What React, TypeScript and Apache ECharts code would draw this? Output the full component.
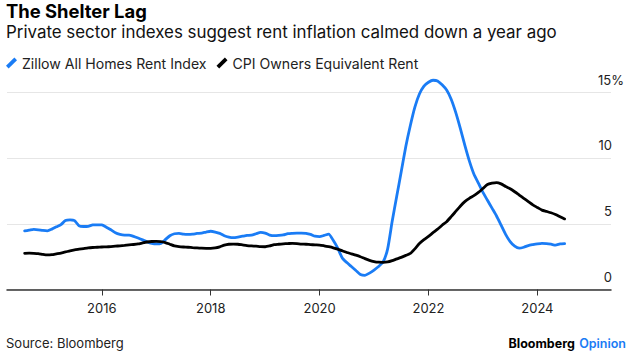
import React, { useEffect, useRef } from "react";
import * as echarts from "echarts";

// Monthly series, first point = Aug 2014
const START_YEAR = 2014;
const START_MONTH = 8;

const zillowRent = [
  4.47, 4.52, 4.58, 4.55, 4.5, 4.47, 4.6, 4.78, 4.95, 5.25,
  5.3, 5.25, 4.85, 4.8, 4.82, 4.92, 4.93, 4.92, 4.75, 4.55,
  4.32, 4.2, 4.15, 4.15, 4.05, 3.92, 3.78, 3.63, 3.52, 3.47,
  3.5, 3.8, 4.1, 4.25, 4.28, 4.22, 4.2, 4.22, 4.27, 4.3,
  4.38, 4.44, 4.38, 4.28, 4.1, 4.0, 3.96, 4.0, 4.06, 4.12,
  4.15, 4.25, 4.35, 4.3, 4.15, 4.1, 4.12, 4.16, 4.25, 4.28,
  4.3, 4.3, 4.28, 4.2, 4.06, 4.03, 4.12, 4.22, 3.75, 3.15,
  2.4, 2.05, 1.75, 1.45, 1.15, 1.08, 1.25, 1.48, 1.75, 2.1,
  3.1, 5.2, 7.1, 9.0, 10.9, 12.5, 13.9, 14.9, 15.5, 15.8,
  15.95, 15.9, 15.6, 15.2, 14.5, 13.5, 12.3, 11.0, 9.8, 8.8,
  8.1, 7.4, 6.8, 6.2, 5.6, 4.9, 4.2, 3.65, 3.3, 3.15,
  3.22, 3.35, 3.42, 3.48, 3.52, 3.5, 3.45, 3.38, 3.47, 3.5,
];

const cpiOer = [
  2.76, 2.77, 2.76, 2.74, 2.68, 2.64, 2.66, 2.72, 2.78, 2.86,
  2.95, 3.02, 3.07, 3.12, 3.17, 3.2, 3.22, 3.24, 3.25, 3.27,
  3.3, 3.33, 3.36, 3.4, 3.43, 3.47, 3.55, 3.62, 3.66, 3.67,
  3.65, 3.58, 3.45, 3.32, 3.27, 3.24, 3.22, 3.19, 3.17, 3.15,
  3.14, 3.14, 3.17, 3.25, 3.38, 3.45, 3.46, 3.45, 3.4, 3.35,
  3.32, 3.3, 3.27, 3.26, 3.32, 3.42, 3.45, 3.48, 3.5, 3.52,
  3.5, 3.46, 3.45, 3.42, 3.4, 3.39, 3.33, 3.26, 3.18, 3.08,
  2.95, 2.82, 2.72, 2.62, 2.5, 2.35, 2.22, 2.13, 2.08, 2.07,
  2.1, 2.2, 2.33, 2.45, 2.6, 2.75, 3.1, 3.5, 3.8, 4.05,
  4.33, 4.6, 4.9, 5.17, 5.55, 5.95, 6.35, 6.7, 6.95, 7.15,
  7.4, 7.7, 8.0, 8.1, 8.15, 8.05, 7.85, 7.68, 7.45, 7.2,
  6.95, 6.7, 6.45, 6.25, 6.05, 5.95, 5.85, 5.72, 5.55, 5.38,
];

const yearTicks = [2016, 2018, 2020, 2022, 2024];
const X_MIN = 2014.259;
const X_MAX = 2025.352;
const Y_MIN = 0;
const Y_MAX = 15;
const Y_STEP = 5;

const seriesNames = ["Zillow All Homes Rent Index", "CPI Owners Equivalent Rent"];
const seriesColors = ["#1a7cf5", "#000000"];

const FONT = "Inter, 'Liberation Sans', Arial, sans-serif";

function toPairs(values: number[]) {
  return values.map((v, i) => {
    const m = START_MONTH - 1 + i;
    return [START_YEAR + m / 12, v];
  });
}

export default function App() {
  const ref = useRef<HTMLDivElement>(null);

  useEffect(() => {
    if (!ref.current) return;
    const chart = echarts.init(ref.current, null, { renderer: "svg" });
    const slash = "path://M0,7.6 L7.6,0 L10,2.4 L2.4,10 Z";
    chart.setOption({
      animation: false,
      backgroundColor: "#ffffff",
      textStyle: { fontFamily: FONT },
      title: [
        {
          text: "The Shelter Lag",
          left: 6,
          top: 0,
          padding: 0,
          textStyle: { fontFamily: FONT, fontSize: 18.4, fontWeight: 700, color: "#000", lineHeight: 22 },
        },
        {
          text: "Private sector indexes suggest rent inflation calmed down a year ago",
          left: 6,
          top: 22,
          padding: 0,
          textStyle: { fontFamily: FONT, fontSize: 16.9, fontWeight: 400, color: "#111", lineHeight: 20 },
        },
        {
          text: "Source: Bloomberg",
          left: 6,
          top: 335,
          padding: 0,
          textStyle: { fontFamily: FONT, fontSize: 13, fontWeight: 400, color: "#222", lineHeight: 16 },
        },
        {
          text: "{b|Bloomberg} {o|Opinion}",
          right: 4,
          top: 335,
          padding: 0,
          textStyle: {
            fontFamily: FONT,
            lineHeight: 16,
            rich: {
              b: { fontFamily: FONT, fontSize: 12.5, fontWeight: 700, color: "#000", lineHeight: 16 },
              o: { fontFamily: FONT, fontSize: 12.5, fontWeight: 600, color: "#1a7cf5", lineHeight: 16 },
            },
          },
        },
      ],
      legend: {
        left: 6,
        top: 56,
        padding: 0,
        itemWidth: 11,
        itemHeight: 12,
        itemGap: 10,
        icon: slash,
        textStyle: { fontFamily: FONT, fontSize: 14.1, color: "#222", lineHeight: 14 },
        data: seriesNames,
      },
      grid: {
        left: 7,
        right: 19,
        top: 92.7,
        bottom: 64.5,
        containLabel: false,
        outerBoundsMode: "none",
      },
      xAxis: {
        type: "value",
        min: X_MIN,
        max: X_MAX,
        axisLine: { show: true, lineStyle: { color: "#333", width: 1.5 } },
        axisTick: {
          show: true,
          customValues: yearTicks,
          length: 6,
          lineStyle: { color: "#333", width: 1 },
        },
        axisLabel: {
          customValues: yearTicks,
          formatter: (v: number) => String(Math.round(v)),
          fontFamily: FONT,
          fontSize: 13,
          color: "#222",
          margin: 12,
        },
        splitLine: { show: false },
      },
      yAxis: {
        type: "value",
        position: "right",
        min: Y_MIN,
        max: Y_MAX,
        interval: Y_STEP,
        axisLine: { show: false },
        axisTick: { show: false },
        splitLine: { show: true, lineStyle: { color: "#e6e6e6", width: 1 } },
        axisLabel: {
          inside: false,
          align: "right",
          margin: 13,
          verticalAlign: "bottom",
          padding: [0, 0, 6, 0],
          lineHeight: 14,
          formatter: (v: number) => (v === Y_MAX ? `{n|${v}}{p|%}` : `{m|${v}}`),
          rich: {
            n: { fontFamily: FONT, fontSize: 13, color: "#222", lineHeight: 14 },
            p: { fontFamily: FONT, fontSize: 13, color: "#222", lineHeight: 14 },
            m: { fontFamily: FONT, fontSize: 13, color: "#222", lineHeight: 14, padding: [0, 12, 0, 0] },
          },
        },
      },
      series: [
        {
          name: seriesNames[0],
          type: "line",
          data: toPairs(zillowRent),
          showSymbol: false,
          clip: false,
          smooth: 0.2,
          color: seriesColors[0],
          lineStyle: { color: seriesColors[0], width: 2.8, cap: "round", join: "round" },
        },
        {
          name: seriesNames[1],
          type: "line",
          data: toPairs(cpiOer),
          showSymbol: false,
          clip: false,
          smooth: 0.2,
          color: seriesColors[1],
          lineStyle: { color: seriesColors[1], width: 2.8, cap: "round", join: "round" },
        },
      ],
    });
    return () => chart.dispose();
  }, []);

  return <div ref={ref} style={{ width: 630, height: 354, position: "absolute", left: 0, top: 0 }} />;
}
